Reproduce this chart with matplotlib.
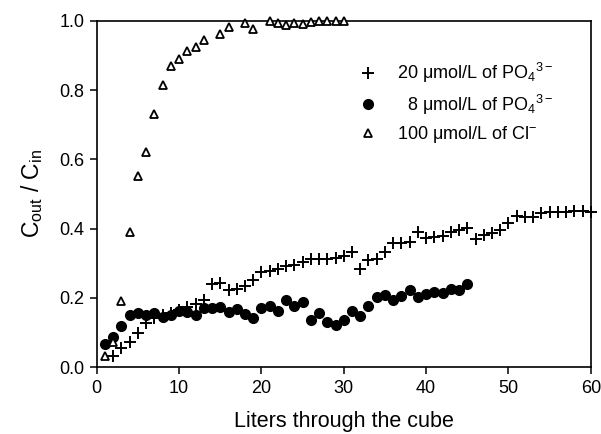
import numpy as np
from matplotlib import pyplot as plt

plt.rcParams['font.family'] = ['Liberation Sans', 'DejaVu Sans']
plt.rcParams['mathtext.fontset'] = 'custom'
plt.rcParams['mathtext.rm'] = 'Liberation Sans'
plt.rcParams['mathtext.it'] = 'Liberation Sans:italic'

# 20 umol/L phosphate (+)
po4_20_x = np.arange(2, 61)
po4_20_y = [0.031, 0.055, 0.072, 0.100, 0.127, 0.141, 0.150, 0.155, 0.165,
            0.173, 0.183, 0.195, 0.239, 0.243, 0.222, 0.227, 0.233, 0.253,
            0.275, 0.278, 0.284, 0.291, 0.296, 0.303, 0.311, 0.313, 0.313,
            0.316, 0.320, 0.332, 0.284, 0.308, 0.313, 0.332, 0.358, 0.358,
            0.361, 0.390, 0.374, 0.376, 0.378, 0.390, 0.395, 0.403, 0.371,
            0.381, 0.386, 0.395, 0.416, 0.436, 0.435, 0.435, 0.445, 0.448,
            0.448, 0.447, 0.450, 0.450, 0.447]

# 8 umol/L phosphate (filled circles)
po4_8_x = np.arange(1, 46)
po4_8_y = [0.067, 0.088, 0.120, 0.151, 0.157, 0.151, 0.157, 0.146, 0.150,
           0.161, 0.159, 0.151, 0.172, 0.172, 0.175, 0.159, 0.167, 0.154,
           0.143, 0.172, 0.178, 0.161, 0.195, 0.178, 0.188, 0.137, 0.156,
           0.130, 0.121, 0.137, 0.163, 0.147, 0.177, 0.203, 0.208, 0.195,
           0.206, 0.222, 0.203, 0.212, 0.218, 0.214, 0.227, 0.223, 0.241]

# 100 umol/L chloride (open triangles)
cl_x = [1, 2, 3, 4, 5, 6, 7, 8, 9, 10, 11, 12, 13, 15, 16, 18, 19,
        21, 22, 23, 24, 25, 26, 27, 28, 29, 30]
cl_y = [0.031, 0.074, 0.190, 0.390, 0.552, 0.620, 0.730, 0.816, 0.871,
        0.889, 0.913, 0.924, 0.944, 0.962, 0.983, 0.993, 0.975,
        1.000, 0.994, 0.988, 0.994, 0.990, 0.996, 1.000, 1.000, 1.000, 1.000]

fig = plt.figure(figsize=(6.01, 4.34), dpi=100)
ax = fig.add_axes([0.161, 0.154, 0.822, 0.798])

ax.plot(po4_20_x, po4_20_y, '+', color='black', markersize=8.5, markeredgewidth=1.4,
        label='20 \u03bcmol/L of PO$_4$$^{3-}$', clip_on=False, zorder=3)
ax.plot(po4_8_x, po4_8_y, 'o', color='black', markersize=7,
        label='  8 \u03bcmol/L of PO$_4$$^{3-}$', zorder=3)
ax.plot(cl_x, cl_y, '^', markerfacecolor='white', markeredgecolor='black',
        markersize=6, markeredgewidth=1.3, label='100 \u03bcmol/L of Cl$^{-}$',
        clip_on=False, zorder=4)

ax.set_xlim(0, 60)
ax.set_ylim(0, 1.0)
ax.set_xticks(np.arange(0, 61, 10))
ax.set_yticks(np.arange(0, 1.01, 0.2))
ax.set_yticklabels(['%.1f' % v for v in np.arange(0, 1.01, 0.2)])
ax.tick_params(direction='out', length=5, width=1.1, labelsize=13, pad=4)
for s in ax.spines.values():
    s.set_linewidth(1.2)

ax.set_xlabel('Liters through the cube', fontsize=15.5, labelpad=10)
ax.set_ylabel('C$_\\mathrm{out}$ / C$_\\mathrm{in}$', fontsize=16.5, labelpad=10)

leg = ax.legend(loc='upper left', bbox_to_anchor=(360 / 601, 1 - 61 / 434),
                bbox_transform=fig.transFigure, frameon=False, fontsize=13,
                numpoints=1, handlelength=0.9, handletextpad=1.15,
                borderpad=0, borderaxespad=0, labelspacing=0.42)

fig.savefig('out.png', dpi=100)
